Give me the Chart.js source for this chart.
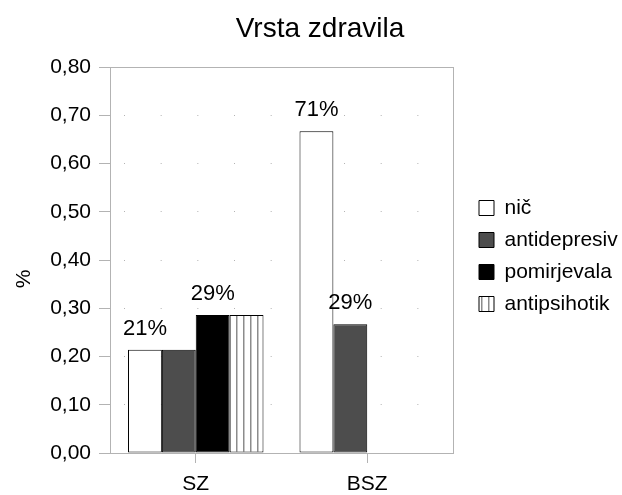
<!DOCTYPE html>
<html>
<head>
<meta charset="utf-8">
<script src="https://cdn.jsdelivr.net/npm/chart.js@4"></script>
<style>
  html, body { margin: 0; padding: 0; background: #fff; }
  #wrap { width: 622px; height: 495px; }
</style>
</head>
<body>
<div id="wrap"><canvas id="drugChart" width="622" height="495"></canvas></div>
<script>
const categories = ['SZ', 'BSZ'];
const seriesNames = ['nič', 'antidepresiv', 'pomirjevala', 'antipsihotik'];

const nicValues = [0.214, 0.667];
const antidepresivValues = [0.214, 0.267];
const pomirjevalaValues = [0.286, null];
const antipsihotikValues = [0.286, null];

// percentage labels printed above some bars
const nicLabels = ['21%', '71%'];
const antidepresivLabels = [null, '29%'];
const pomirjevalaLabels = ['29%', null];
const antipsihotikLabels = [null, null];

const yTickLabels = ['0,00', '0,10', '0,20', '0,30', '0,40', '0,50', '0,60', '0,70', '0,80'];

const gridGray = '#b3b3b3';
const fontFamily = '"Liberation Sans", Arial, sans-serif';

Chart.defaults.font.family = fontFamily;
Chart.defaults.color = '#000';

// white fill with thin vertical gray stripes
function stripePattern() {
    const c = document.createElement('canvas');
    c.width = 7;
    c.height = 7;
    const p = c.getContext('2d');
    p.fillStyle = '#fff';
    p.fillRect(0, 0, 7, 7);
    p.fillStyle = '#8c8c8c';
    p.fillRect(5, 0, 1.5, 7);
    return p.createPattern(c, 'repeat');
}

// the right legend is capped at a quarter of the free width,
// so these paddings put the right edge of the plot at x=453
const padLeft = 10, padRight = 64 / 3;
const legendFontSize = 21, legendBox = 15, legendPad = 11;

const allLabels = [nicLabels, antidepresivLabels, pomirjevalaLabels, antipsihotikLabels];

const shiftBoxes = {
    id: 'shiftBoxes',
    afterLayout(chart) {
        const lg = chart.legend;
        lg.left = 468;
        lg.right = 622;
        lg.top += 8.5;
        lg.bottom += 8.5;
        // title centred at x=320 like the original
        const tb = chart.titleBlock;
        tb.left = 18;
        tb.right = 622;
    }
};

const plotExtras = {
    id: 'plotExtras',
    beforeDatasetsDraw(chart) {
        const { ctx, chartArea: a } = chart;
        ctx.save();
        ctx.strokeStyle = gridGray;
        ctx.lineWidth = 1;
        ctx.strokeRect(Math.round(a.left) + 0.5, Math.round(a.top) + 0.5,
            Math.round(a.right - a.left), Math.round(a.bottom - a.top));
        ctx.restore();
    },
    afterDatasetsDraw(chart) {
        const ctx = chart.ctx;
        ctx.save();
        ctx.font = '22px ' + fontFamily;
        ctx.fillStyle = '#000';
        ctx.textAlign = 'center';
        ctx.textBaseline = 'middle';
        allLabels.forEach((labels, i) => {
            const meta = chart.getDatasetMeta(i);
            meta.data.forEach((bar, j) => {
                if (labels[j]) ctx.fillText(labels[j], bar.x, bar.y - 21);
            });
        });
        ctx.restore();
    },
    afterDraw(chart) {
        const ctx = chart.ctx;
        ctx.save();
        ctx.font = '21px ' + fontFamily;
        ctx.fillStyle = '#000';
        ctx.textAlign = 'center';
        ctx.textBaseline = 'middle';
        ctx.translate(24, 279);
        ctx.rotate(-Math.PI / 2);
        ctx.fillText('%', 0, 0);
        ctx.restore();
    }
};

const barStyle = { borderColor: '#000', borderWidth: 1, borderSkipped: false };

const ctx = document.getElementById('drugChart').getContext('2d');

new Chart(ctx, {
    type: 'bar',
    data: {
        labels: categories,
        datasets: [
            { label: seriesNames[0], data: nicValues, backgroundColor: '#fff', ...barStyle },
            { label: seriesNames[1], data: antidepresivValues, backgroundColor: '#4d4d4d', ...barStyle },
            { label: seriesNames[2], data: pomirjevalaValues, backgroundColor: '#000', ...barStyle },
            { label: seriesNames[3], data: antipsihotikValues, backgroundColor: stripePattern(), ...barStyle }
        ]
    },
    options: {
        responsive: false,
        animation: false,
        devicePixelRatio: 1,
        layout: { padding: { left: padLeft, right: padRight, top: 0, bottom: 0 } },
        datasets: { bar: { categoryPercentage: 0.79, barPercentage: 1 } },
        plugins: {
            title: {
                display: true,
                text: 'Vrsta zdravila',
                color: '#000',
                font: { size: 28, weight: 'normal' },
                padding: { top: 12, bottom: 21.5 }
            },
            legend: {
                position: 'right',
                labels: {
                    boxWidth: legendBox,
                    boxHeight: legendBox,
                    padding: legendPad,
                    color: '#000',
                    font: { size: legendFontSize }
                }
            },
            tooltip: { enabled: false }
        },
        scales: {
            x: {
                grid: { offset: false, drawOnChartArea: false, color: gridGray, tickColor: gridGray, tickLength: 10 },
                border: { color: gridGray },
                ticks: { font: { size: 21 }, color: '#000', padding: 9, maxRotation: 0 },
                afterFit(s) { s.height = 42; }
            },
            y: {
                min: 0,
                max: 0.8,
                ticks: {
                    stepSize: 0.1,
                    font: { size: 21 },
                    color: '#000',
                    padding: 8,
                    callback: (v, i) => yTickLabels[i]
                },
                grid: { color: gridGray, tickColor: gridGray, tickLength: 11 },
                border: { color: gridGray, dash: [1, 35.67], dashOffset: 23.67 },
                afterFit(s) { s.width = 110 - padLeft; }
            }
        }
    },
    plugins: [shiftBoxes, plotExtras]
});
</script>
</body>
</html>
